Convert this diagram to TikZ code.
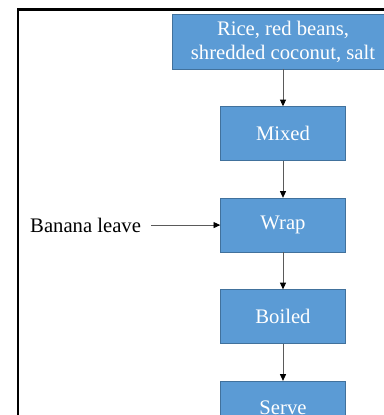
\documentclass[tikz,border=0pt]{standalone}
\usepackage{fontspec}
\setmainfont{Liberation Serif}
\usepackage{xcolor}
\usetikzlibrary{arrows.meta,positioning}
\definecolor{azulbox}{RGB}{91,155,213}
\definecolor{azulborde}{RGB}{65,113,156}
\definecolor{flecha}{RGB}{90,90,90}

\begin{document}
\begin{tikzpicture}[x=0.75pt,y=-0.75pt,font=\fontsize{15.5pt}{18pt}\selectfont,
  pasobox/.style={draw=azulborde,fill=azulbox,text=white,minimum width=93.75pt,minimum height=40.5pt,align=center,inner sep=0pt},
  flechita/.style={draw=flecha,line width=0.6pt,-{Triangle[length=5pt,width=4.5pt,color=black]}}]
\useasboundingbox (0,0) rectangle (384,415);
\draw[line width=1.6pt] (18,420) -- (18,9.5) -- (390,9.5);
\node[pasobox,minimum width=166.5pt,minimum height=41.25pt] (ingredientes) at (283,41.5)
{Rice, red beans,\\shredded coconut, salt};
\node[pasobox,below=27.75pt of ingredientes] (mixed) {Mixed};
\node[pasobox,below=27.75pt of mixed] (wrap) {Wrap};
\node[pasobox,below=27.75pt of wrap] (boiled) {Boiled};
\node[pasobox,below=27.75pt of boiled] (serve) {Serve};
\node[left=51.75pt of wrap,inner xsep=7.5pt,inner ysep=2pt] (banana) {Banana leave};
\draw[flechita] (ingredientes) -- (mixed);
\draw[flechita] (mixed) -- (wrap);
\draw[flechita] (wrap) -- (boiled);
\draw[flechita] (boiled) -- (serve);
\draw[flechita] (banana) -- (wrap);
\end{tikzpicture}
\end{document}
